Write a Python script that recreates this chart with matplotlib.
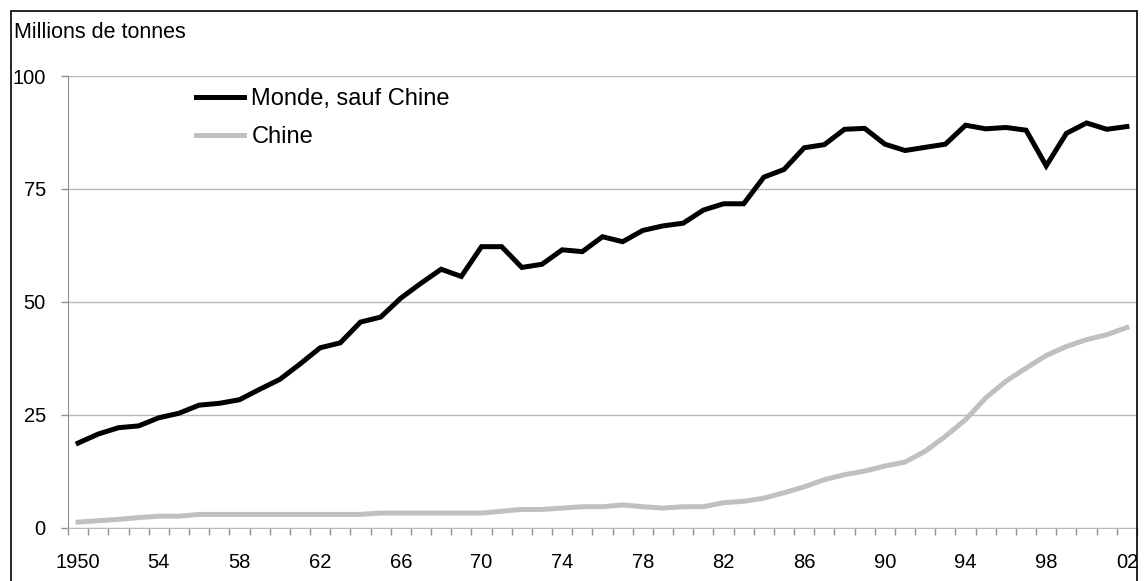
"""Monde sauf Chine vs Chine, millions de tonnes, 1950-2002
"""
import numpy as np
import matplotlib.pyplot as plt
from matplotlib.patches import Rectangle
from matplotlib.ticker import FixedLocator

plt.rcParams['font.family'] = ['Liberation Sans', 'DejaVu Sans']

years = list(range(1950, 2003))
monde = [18.7, 20.7, 22.1, 22.5, 24.3, 25.3, 27.1, 27.5, 28.3, 30.6,
         32.8, 36.2, 39.8, 40.9, 45.5, 46.6, 50.8, 54.1, 57.2, 55.6,
         62.2, 62.2, 57.6, 58.3, 61.5, 61.1, 64.4, 63.3, 65.8, 66.8,
         67.4, 70.3, 71.7, 71.7, 77.6, 79.3, 84.1, 84.8, 88.2, 88.4,
         84.9, 83.5, 84.2, 84.9, 89.1, 88.3, 88.6, 88.0, 80.1, 87.3,
         89.6, 88.2, 88.8]
chine = [1.2, 1.5, 1.8, 2.2, 2.5, 2.5, 2.9, 2.9, 2.9, 2.9,
         2.9, 2.9, 2.9, 2.9, 2.9, 3.2, 3.2, 3.2, 3.2, 3.2,
         3.2, 3.6, 4.0, 4.0, 4.3, 4.6, 4.6, 5.0, 4.6, 4.3,
         4.6, 4.6, 5.5, 5.8, 6.5, 7.7, 9.0, 10.6, 11.7, 12.5,
         13.6, 14.5, 16.9, 20.2, 23.9, 28.7, 32.4, 35.3, 38.1, 40.1,
         41.6, 42.7, 44.3]
labels = ['Monde, sauf Chine', 'Chine']
yticks = [0, 25, 50, 75, 100]

x = np.arange(len(years))

fig = plt.figure(figsize=(11.45, 5.81), dpi=100)
ax = fig.add_axes([68 / 1145, 1 - 527.5 / 581, (1137 - 68) / 1145, (527.5 - 76) / 581])

ax.plot(x, monde, color='black', lw=3.6, label=labels[0], solid_joinstyle='miter')
ax.plot(x, chine, color='#c0c0c0', lw=3.6, label=labels[1], solid_joinstyle='miter')

ax.set_xlim(-0.5, len(years) - 0.5)
ax.set_ylim(0, 100)

# y axis
ax.set_yticks(yticks)
ax.set_yticklabels([str(v) for v in yticks], fontsize=14.5)
ax.tick_params(axis='y', direction='out', length=5, width=1, color='#909090', pad=11)
ax.grid(axis='y', color='#b8b8b8', lw=1)
ax.set_axisbelow(True)

# x axis: labels every 4 years, small ticks between categories
xt = x[::4]
ax.set_xticks(xt)
ax.set_xticklabels([str(y) if y == 1950 else '%02d' % (y % 100) for y in years[::4]], fontsize=14.5)
ax.tick_params(axis='x', which='major', length=0, pad=18)
ax.xaxis.set_minor_locator(FixedLocator(np.arange(-0.5, len(years), 1.0)))
ax.tick_params(axis='x', which='minor', direction='out', length=5, width=1, color='#909090')

for s in ['top', 'right']:
    ax.spines[s].set_visible(False)
ax.spines['left'].set_color('#909090')
ax.spines['bottom'].set_color('#b8b8b8')

ax.legend(loc='upper left', bbox_to_anchor=(196 / 1145, 1 - 88.5 / 581),
          bbox_transform=fig.transFigure, frameon=False, fontsize=17,
          handlelength=2.05, handletextpad=0.3, labelspacing=0.66,
          borderpad=0, borderaxespad=0)

fig.text(14 / 1145, 1 - 38 / 581, 'Millions de tonnes', fontsize=15.5, va='baseline', ha='left')

# outer frame (bottom edge falls outside the picture)
fig.patches.append(Rectangle((11 / 1145, -0.05), (1137 - 11) / 1145, 1.05 - 11 / 581,
                             transform=fig.transFigure, fill=False, ec='black', lw=1.2,
                             zorder=10))

plt.savefig('out.png', dpi=100)
